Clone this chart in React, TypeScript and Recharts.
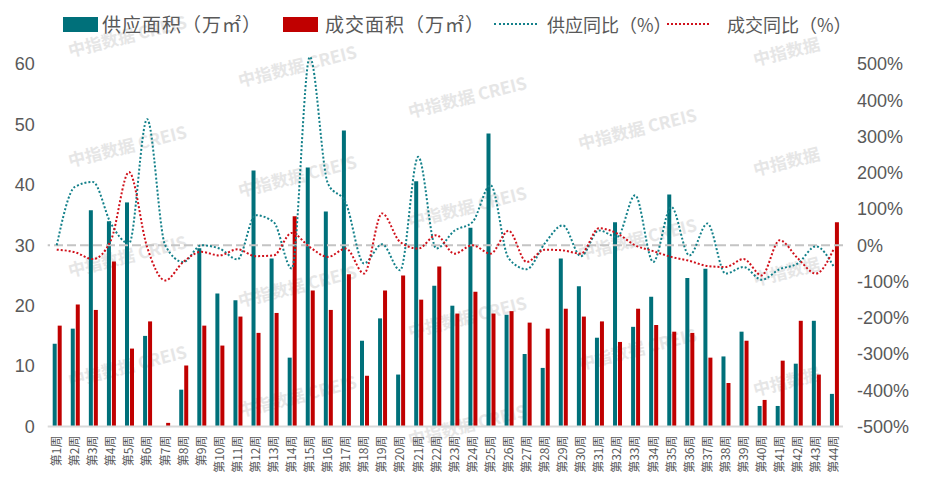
import {
  ComposedChart, Bar, Line, XAxis, YAxis, ReferenceLine,
} from 'recharts'

const weeks = [
  '第1周', '第2周', '第3周', '第4周', '第5周', '第6周', '第7周', '第8周', '第9周', '第10周', '第11周',
  '第12周', '第13周', '第14周', '第15周', '第16周', '第17周', '第18周', '第19周', '第20周', '第21周', '第22周',
  '第23周', '第24周', '第25周', '第26周', '第27周', '第28周', '第29周', '第30周', '第31周', '第32周', '第33周',
  '第34周', '第35周', '第36周', '第37周', '第38周', '第39周', '第40周', '第41周', '第42周', '第43周', '第44周',
]

// 万㎡
const supplyArea = [
  13.7, 16.2, 35.8, 34.0, 37.1, 15.0, 0, 6.1, 29.5, 22.0, 20.9,
  42.4, 27.8, 11.4, 42.9, 35.6, 49.0, 14.2, 17.9, 8.6, 40.6, 23.3,
  20.0, 32.9, 48.5, 18.5, 12.0, 9.7, 27.8, 23.2, 14.7, 33.8, 16.5,
  21.5, 38.4, 24.6, 26.1, 11.6, 15.7, 3.4, 3.4, 10.4, 17.5, 5.4,
]
const dealArea = [
  16.7, 20.2, 19.3, 27.3, 12.9, 17.4, 0.6, 10.1, 16.7, 13.4, 18.2,
  15.5, 18.8, 34.8, 22.5, 19.3, 25.2, 8.4, 22.5, 25.0, 21.0, 26.5,
  18.7, 22.3, 18.7, 19.1, 17.2, 16.2, 19.5, 18.2, 17.4, 14.0, 19.5,
  16.8, 15.7, 15.5, 11.4, 7.2, 14.2, 4.4, 10.9, 17.5, 8.6, 33.8,
]

// %
const supplyYoY = [
  0, 161, 175, 60, 5, 348, 0, -46, 0, -9, -39,
  83, 64, -64, 520, 171, 116, -50, 3, -69, 244, -9,
  40, 64, 166, -36, -66, 5, 55, -30, 41, 23, 138,
  -46, 106, -28, 60, -78, -60, -95, -66, -50, -3, -60,
]
const dealYoY = [
  -12, -19, -38, 14, 202, -5, -97, -46, -18, -28, -11,
  -30, -28, 34, -5, -32, -9, -78, 88, 9, -9, 28,
  -23, 0, -23, 40, -46, -12, -14, -23, 47, 33, 0,
  -16, -32, -43, -57, -60, -38, -83, 14, -36, -78, -9,
]

const leftTicks = [0, 10, 20, 30, 40, 50, 60]
const rightTicks = [-500, -400, -300, -200, -100, 0, 100, 200, 300, 400, 500]

const TEAL = '#00707a'
const RED = '#c00000'
const TEAL_LINE = '#13808a'
const RED_LINE = '#d0111b'
const TEXT = '#595959'

const data = weeks.map((w, i) => ({
  week: w,
  supply: supplyArea[i],
  deal: dealArea[i],
  supplyYoY: supplyYoY[i],
  dealYoY: dealYoY[i],
}))

const WeekTick = ({ x, y, payload }: any) => (
  <text
    x={x}
    y={y}
    dy="0.36em"
    transform={`rotate(-90 ${x} ${y})`}
    textAnchor="end"
    fontSize={12}
    fill={TEXT}
    fontFamily="'Noto Sans CJK SC', sans-serif"
  >
    {payload.value}
  </text>
)

const marks: [number, number, boolean][] = [
  [70, 57, true], [70, 167, true], [70, 277, true], [70, 387, true],
  [240, 87, true], [240, 197, true], [240, 307, true], [240, 417, true],
  [410, 118, true], [410, 228, true], [410, 338, true], [410, 446, true],
  [580, 150, true], [580, 260, true], [580, 370, true],
  [755, 66, false], [755, 176, false], [755, 286, false], [755, 396, false],
]

function Watermark() {
  return (
    <svg width={925} height={497} style={{ position: 'absolute', left: 0, top: 0 }}>
      {marks.map(([x, y, full], i) => (
        <text
          key={i}
          x={x}
          y={y}
          transform={`rotate(-14 ${x} ${y})`}
          fontSize={17}
          fontWeight="bold"
          fill="#e6e6e6"
          fontFamily="'Noto Sans CJK SC', sans-serif"
        >
          {full ? '中指数据 CREIS' : '中指数据'}
        </text>
      ))}
    </svg>
  )
}

const legendText = {
  position: 'absolute', top: 11, fontSize: 19, letterSpacing: 1, color: TEXT,
  lineHeight: '26px', whiteSpace: 'nowrap',
} as const
const legendTextSmall = { ...legendText, fontSize: 18, letterSpacing: 0, top: 12, lineHeight: '25px' } as const

function ChartLegend() {
  return (
    <div style={{ position: 'absolute', left: 0, top: 0, width: 925, height: 40, fontFamily: "'Noto Sans CJK SC', sans-serif" }}>
      <div style={{ position: 'absolute', left: 63, top: 17, width: 35, height: 15, background: TEAL }} />
      <div style={{ ...legendText, left: 102 }}>供应面积（万㎡）</div>
      <div style={{ position: 'absolute', left: 283, top: 17, width: 35, height: 15, background: RED }} />
      <div style={{ ...legendText, left: 325 }}>成交面积（万㎡）</div>
      <div style={{ position: 'absolute', left: 494, top: 23, width: 43, borderTop: `2px dotted ${TEAL_LINE}` }} />
      <div style={{ ...legendTextSmall, left: 547 }}>供应同比（%）</div>
      <div style={{ position: 'absolute', left: 667, top: 23, width: 42, borderTop: `2px dotted ${RED_LINE}` }} />
      <div style={{ ...legendTextSmall, left: 727 }}>成交同比（%）</div>
    </div>
  )
}

export default function App() {
  return (
    <div style={{ position: 'absolute', left: 0, top: 0, width: 925, height: 497, background: '#fff' }}>
      <Watermark />
      <ChartLegend />
      <div style={{ position: 'absolute', left: 0, top: 0 }}>
        <ComposedChart
          width={925}
          height={497}
          data={data}
          margin={{ top: 49.6, right: 0, bottom: 0, left: 0 }}
          barSize={4}
          barGap={1}
        >
          <XAxis
            dataKey="week"
            interval={0}
            height={70.5}
            tick={<WeekTick />}
            tickLine={false}
            tickSize={0}
            tickMargin={9}
            axisLine={{ stroke: '#d9d9d9', strokeWidth: 2 }}
          />
          <YAxis
            yAxisId="left"
            width={47.7}
            domain={[0, 62.4]}
            ticks={leftTicks}
            axisLine={false}
            tickLine={false}
            tickSize={0}
            tickMargin={13}
            tick={{ fontSize: 18, fill: TEXT, fontFamily: "'Liberation Sans', sans-serif" }}
          />
          <YAxis
            yAxisId="right"
            orientation="right"
            width={82}
            domain={[-500, 540]}
            ticks={rightTicks}
            axisLine={false}
            tickLine={false}
            tickSize={0}
            tickMargin={14}
            tickFormatter={(v: number) => `${v}%`}
            tick={{ fontSize: 18, fill: TEXT, fontFamily: "'Liberation Sans', sans-serif" }}
          />
          <Bar yAxisId="left" dataKey="supply" fill={TEAL} isAnimationActive={false} />
          <Bar yAxisId="left" dataKey="deal" fill={RED} isAnimationActive={false} />
          <ReferenceLine yAxisId="right" y={0} stroke="#c4c4c4" strokeWidth={2} strokeDasharray="9 4" />
          <Line
            yAxisId="right"
            type="monotone"
            dataKey="supplyYoY"
            stroke={TEAL_LINE}
            strokeWidth={2}
            strokeDasharray="2 2"
            dot={false}
            isAnimationActive={false}
          />
          <Line
            yAxisId="right"
            type="monotone"
            dataKey="dealYoY"
            stroke={RED_LINE}
            strokeWidth={2}
            strokeDasharray="2 2"
            dot={false}
            isAnimationActive={false}
          />
        </ComposedChart>
      </div>
    </div>
  )
}
